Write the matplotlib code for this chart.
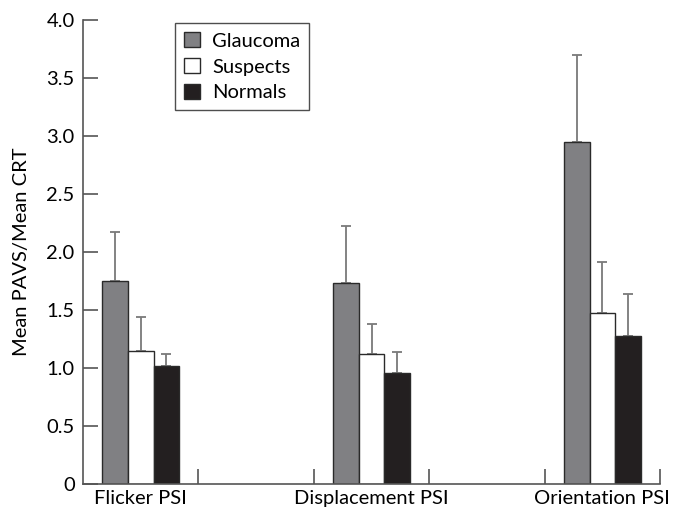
import matplotlib
matplotlib.use("Agg")
import matplotlib.pyplot as plt
from matplotlib.patches import Patch
import numpy as np

plt.rcParams['font.family'] = ['Lato', 'DejaVu Sans']

categories = ["Flicker PSI", "Displacement PSI", "Orientation PSI"]
groups = ["Glaucoma", "Suspects", "Normals"]
means = {
    "Glaucoma": [1.75, 1.73, 2.95],
    "Suspects": [1.15, 1.12, 1.47],
    "Normals": [1.02, 0.96, 1.28],
}
upper_err = {
    "Glaucoma": [0.42, 0.49, 0.75],
    "Suspects": [0.29, 0.26, 0.44],
    "Normals": [0.10, 0.18, 0.36],
}
colors = {"Glaucoma": "#808083", "Suspects": "#ffffff", "Normals": "#231f20"}
yticks = [0, 0.5, 1.0, 1.5, 2.0, 2.5, 3.0, 3.5, 4.0]
ytick_labels = ["0", "0.5", "1.0", "1.5", "2.0", "2.5", "3.0", "3.5", "4.0"]

fig = plt.figure(figsize=(6.75, 5.13), dpi=100)
ax = fig.add_axes([83/675, 1-484/513, 577/675, 464/513])

slots = np.array([0, 2, 4])
bw = 0.222
start = 0.168
for j, g in enumerate(groups):
    x = slots + start + j*bw + bw/2
    ax.bar(x, means[g], width=bw, color=colors[g], edgecolor="#2a2a2a", linewidth=1.0, zorder=2)
    ax.errorbar(x, means[g], yerr=[np.zeros(3), upper_err[g]], fmt='none',
                ecolor="#7a7a7a", elinewidth=1.3, capsize=3.5, capthick=1.3, zorder=1)

ax.set_xlim(0, 5)
ax.set_ylim(0, 4)
centers = slots + start + 1.5*bw
ax.set_xticks(centers)
ax.set_xticklabels(categories, fontsize=14.5)
ax.tick_params(axis='x', which='major', length=0, pad=4)
ax.set_xticks([1, 2, 3, 4, 5], minor=True)
ax.tick_params(axis='x', which='minor', direction='in', length=11, width=1.2, color="#555555")
ax.set_yticks(yticks)
ax.set_yticklabels(ytick_labels, fontsize=14.5)
ax.tick_params(axis='y', direction='in', length=11, width=1.2, color="#555555", pad=6)
for s in ['top', 'right']:
    ax.spines[s].set_visible(False)
for s in ['left', 'bottom']:
    ax.spines[s].set_color("#555555")
    ax.spines[s].set_linewidth(1.2)
ax.set_ylabel("Mean PAVS/Mean CRT", fontsize=14.5, labelpad=12)

handles = [Patch(facecolor=colors[g], edgecolor="#2a2a2a", linewidth=1.0) for g in groups]
leg = ax.legend(handles, groups, loc='upper left', bbox_to_anchor=(92/577, 1.0 - 3/464),
                fontsize=14.5, frameon=True, fancybox=False, edgecolor="#222222",
                handlelength=0.8, handleheight=0.8, handletextpad=0.6,
                borderpad=0.45, labelspacing=0.4, borderaxespad=0)
leg.get_frame().set_linewidth(1.0)

fig.savefig("out.png", dpi=100)
